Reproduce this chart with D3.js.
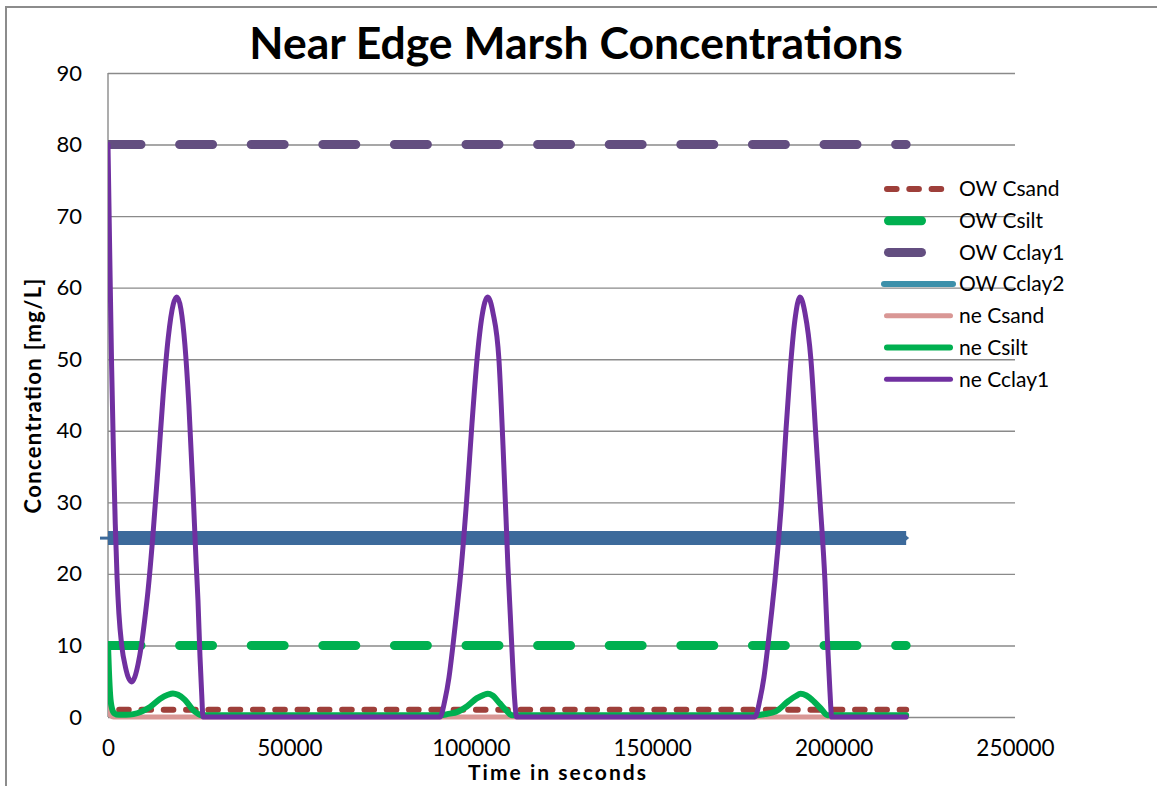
<!DOCTYPE html>
<html>
<head>
<meta charset="utf-8">
<script src="https://cdn.jsdelivr.net/npm/d3@7"></script>
<style>
  body { margin: 0; background: #fff; }
  text { font-family: Lato, "Open Sans", sans-serif; fill: #000; }
</style>
</head>
<body>
<svg id="chart" width="1157" height="786"></svg>
<script>
// ---- data ----
const xTicks = [0, 50000, 100000, 150000, 200000, 250000];
const yTicks = [0, 10, 20, 30, 40, 50, 60, 70, 80, 90];

const seriesNames = ["OW Csand", "OW Csilt", "OW Cclay1", "OW Cclay2", "ne Csand", "ne Csilt", "ne Cclay1"];

// open water boundary values (constant)
const owTime = [0, 220000];
const owCsand = [1, 1];
const owCsilt = [10, 10];
const owCclay1 = [80, 80];
const owCclay2 = [25, 25];

// near edge marsh
const neCsandTime = [0, 300, 800, 1500, 220000];
const neCsand = [1.3, 0.6, 0.2, 0, 0];

const neCsiltTime = [0, 250, 600, 1100, 1800, 3000, 5000, 7000, 9000, 11600, 14300, 16500, 17900, 19300, 21200, 23400, 24800, 25600,
  91800, 93500, 96500, 99000, 101600, 103600, 104700, 106000, 108000, 110000, 111300,
  178600, 181000, 184000, 187500, 189500, 190900, 192500, 194700, 196800, 198300, 220000];
const neCsilt = [10, 6.5, 3, 1.2, 0.5, 0.3, 0.3, 0.4, 0.7, 1.4, 2.5, 3.1, 3.3, 3.1, 2.4, 1.0, 0.45, 0.25,
  0.25, 0.4, 0.75, 1.5, 2.6, 3.1, 3.25, 3.0, 1.9, 0.8, 0.25,
  0.25, 0.4, 0.75, 2.2, 2.9, 3.25, 3.0, 2.1, 1.0, 0.25, 0.25];

const neCclay1Time = [0, 500, 1000, 1500, 2000, 2500, 3000, 3780, 4800, 5700, 6530, 7400, 8300, 9200, 10100, 11000, 12400, 13800, 15200, 16600,
  18000, 19000, 20100, 21200, 22300, 23400, 24300, 24800, 25350, 25800, 26200,
  91500, 92880, 93980, 95080, 96180, 97010, 98860, 100320, 101700, 103080, 104650, 106110, 107760, 108870, 109690, 110240,
  110880, 111530, 112080, 112640,
  178300, 179680, 180790, 181890, 182990, 183820, 185670, 186860, 187960, 189340, 190720, 192100, 193760, 195140, 196240,
  197620, 198360, 199000, 199470, 220000];
const neCclay1 = [80, 64, 49, 37, 27, 19.5, 14.5, 10, 7, 5.4, 4.9, 5.6, 7.4, 10, 13.5, 17.5, 25.5, 35, 45, 53,
  57.7, 58.7, 57, 52, 43.5, 32, 21.5, 16.3, 8.5, 3.5, 0,
  0, 2.4, 5.5, 10, 15, 19, 30.3, 41, 49.9, 56, 58.7, 56.5, 49.9, 38, 28, 21,
  14.3, 7.5, 2.5, 0,
  0, 2.4, 5.5, 10, 15, 19, 30.3, 40, 48, 55.5, 58.7, 56.5, 49.9, 39, 30.3,
  19, 10, 3.5, 0, 0];

// ---- layout ----
const width = 1157;
const height = 786;
const plot = { left: 108, right: 1015, top: 73, bottom: 717 };

const x = d3.scaleLinear().domain([0, 250000]).range([plot.left, plot.right]);
const y = d3.scaleLinear().domain([0, 90]).range([plot.bottom, plot.top]);

const svg = d3.select("#chart");

// chart area border (left & top visible in the picture)
svg.append("path")
  .attr("d", `M6,${height}V7H${width}`)
  .attr("fill", "none")
  .attr("stroke", "#8c8c8c")
  .attr("stroke-width", 2);

// gridlines
svg.append("g")
  .attr("transform", `translate(${plot.left},0)`)
  .call(d3.axisLeft(y).tickValues(yTicks).tickSize(-(plot.right - plot.left)).tickFormat(""))
  .call((g) => g.select(".domain").remove())
  .call((g) => g.selectAll("line").attr("stroke", "#8a8a8a").attr("stroke-width", 1.4));

// y axis line
svg.append("line")
  .attr("x1", plot.left).attr("x2", plot.left)
  .attr("y1", plot.top).attr("y2", plot.bottom)
  .attr("stroke", "#8a8a8a").attr("stroke-width", 1.4);

// y tick labels
svg.append("g")
  .attr("transform", `translate(${plot.left},0)`)
  .call(d3.axisLeft(y).tickValues(yTicks).tickSize(0).tickPadding(26))
  .call((g) => g.select(".domain").remove())
  .call((g) => g.selectAll("text").attr("font-size", 22).attr("font-family", "Lato").attr("fill", "#000"));

// x tick labels
svg.append("g")
  .attr("transform", `translate(0,${plot.bottom})`)
  .call(d3.axisBottom(x).tickValues(xTicks).tickSize(0).tickPadding(23).tickFormat(d3.format("d")))
  .call((g) => g.select(".domain").remove())
  .call((g) => g.selectAll("text").attr("font-size", 22.5).attr("font-family", "Lato").attr("fill", "#000"));

// clip for series
svg.append("clipPath").attr("id", "plotclip")
  .append("rect")
  .attr("x", plot.left).attr("y", plot.top - 20)
  .attr("width", plot.right - plot.left).attr("height", plot.bottom - plot.top + 30);

const styles = [
  { color: "#9e3f3a", width: 6, dash: "9.6 12.7", offset: 11.15, cap: "round" },
  { color: "#00b050", width: 9, dash: "33 38.6", cap: "round" },
  { color: "#634e80", width: 9, dash: "33 38.6", cap: "round" },
  { color: "#3c6a9b", width: 14, dash: null, cap: "butt", legendColor: "#3d90aa", legendWidth: 6 },
  { color: "#d99795", width: 5, dash: null, cap: "round" },
  { color: "#00b050", width: 6, dash: null, cap: "round" },
  { color: "#7030a0", width: 5, dash: null, cap: "round" },
];

const zip = (t, v) => t.map((d, i) => [d, v[i]]);
const seriesData = [
  zip(owTime, owCsand),
  zip(owTime, owCsilt),
  zip(owTime, owCclay1),
  zip(owTime, owCclay2),
  zip(neCsandTime, neCsand),
  zip(neCsiltTime, neCsilt),
  zip(neCclay1Time, neCclay1),
];

const lineLinear = d3.line().x((d) => x(d[0])).y((d) => y(d[1]));
const lineSmooth = d3.line().x((d) => x(d[0])).y((d) => y(d[1])).curve(d3.curveMonotoneX);

const gSeries = svg.append("g");
seriesData.forEach((data, i) => {
  const s = styles[i];
  const p = gSeries.append("path")
    .attr("d", i < 4 ? lineLinear(data) : lineSmooth(data))
    .attr("fill", "none")
    .attr("stroke", s.color)
    .attr("stroke-width", s.width)
    .attr("stroke-linecap", s.cap)
    .attr("stroke-linejoin", "round");
  if (s.dash) p.attr("stroke-dasharray", s.dash);
  if (s.offset) p.attr("stroke-dashoffset", s.offset);
  if (i !== 3) p.attr("clip-path", "url(#plotclip)");
  if (i === 3) {
    // small end markers of the thick series
    const yy = y(owCclay2[0]);
    gSeries.append("line")
      .attr("x1", x(owTime[0]) - 8).attr("x2", x(owTime[0]))
      .attr("y1", yy).attr("y2", yy)
      .attr("stroke", s.color).attr("stroke-width", 3);
    const xe = x(owTime[1]);
    gSeries.append("path")
      .attr("d", `M${xe - 3},${yy - 5}L${xe + 3},${yy}L${xe - 3},${yy + 5}Z`)
      .attr("fill", s.color);
  }
});

// legend
const legend = svg.append("g").attr("transform", "translate(881,189)");
seriesNames.forEach((name, i) => {
  const s = styles[i];
  const row = legend.append("g").attr("transform", `translate(0,${i * 31.7})`);
  const w = s.legendWidth || s.width;
  const inset = s.cap === "round" ? w / 2 : 0;
  const ln = row.append("line")
    .attr("x1", 3 + inset).attr("x2", 72 - inset)
    .attr("stroke", s.legendColor || s.color)
    .attr("stroke-width", Math.min(w, 9))
    .attr("stroke-linecap", "round");
  if (s.dash) ln.attr("stroke-dasharray", s.dash);
  row.append("text")
    .attr("x", 78).attr("y", 0).attr("dy", "0.35em")
    .attr("font-size", 21)
    .text(name);
});

// title
svg.append("text")
  .attr("x", 576).attr("y", 59)
  .attr("text-anchor", "middle")
  .attr("font-size", 44.5)
  .attr("font-weight", "bold")
  .text("Near Edge Marsh Concentrations");

// axis titles
svg.append("text")
  .attr("x", 557).attr("y", 780)
  .attr("text-anchor", "middle")
  .attr("font-size", 21)
  .attr("font-weight", "bold")
  .attr("textLength", 178)
  .attr("lengthAdjust", "spacing")
  .text("Time in seconds");

svg.append("text")
  .attr("transform", "translate(41,396) rotate(-90)")
  .attr("text-anchor", "middle")
  .attr("font-size", 22)
  .attr("font-weight", "bold")
  .attr("textLength", 235)
  .attr("lengthAdjust", "spacing")
  .text("Concentration [mg/L]");
</script>
</body>
</html>
